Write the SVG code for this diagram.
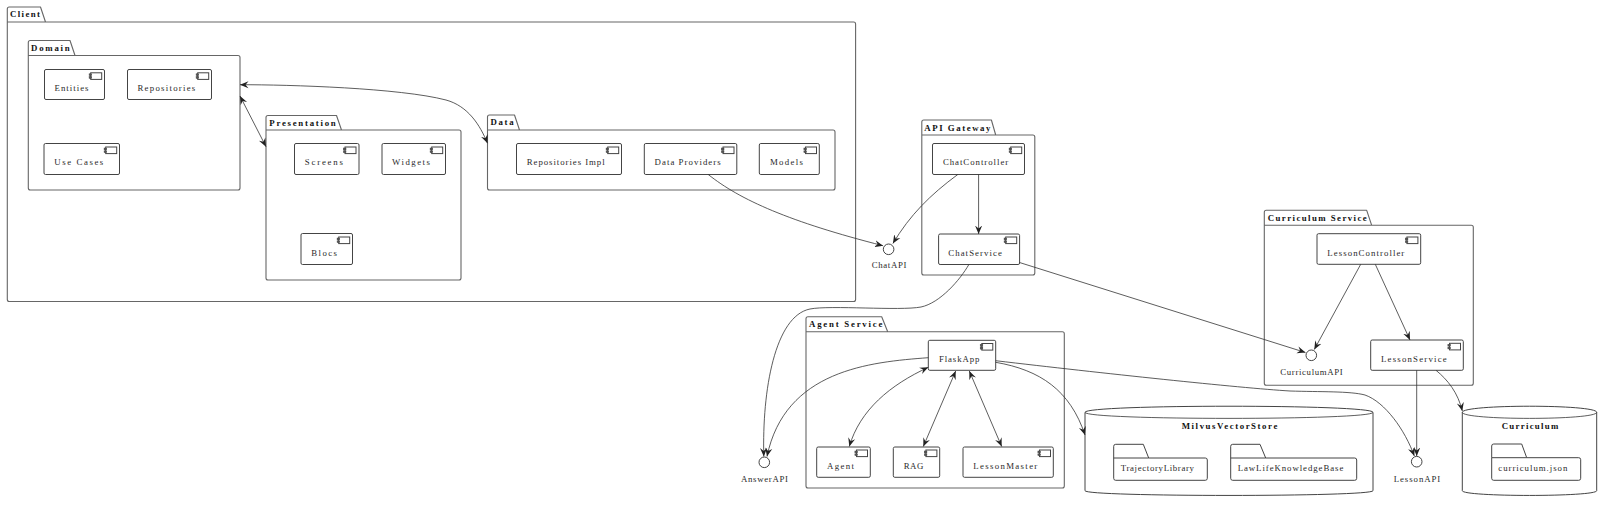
<svg xmlns="http://www.w3.org/2000/svg" xmlns:xlink="http://www.w3.org/1999/xlink" width="1608" height="507" viewBox="0 0 1608 507">
<style>
text{font-family:"Liberation Serif","Times New Roman",serif;font-size:8.8px;fill:#2a2a2a}
.t{font-weight:bold;fill:#111}
.p{fill:none;stroke:#666;stroke-width:1.1;stroke-linejoin:round}
.b{fill:#fff;stroke:#444;stroke-width:1}
.c{fill:none;stroke:#333;stroke-width:.8}
.i{fill:#fff;stroke:#444;stroke-width:1}
.n{fill:#555;stroke:#444;stroke-width:.5}
.a{marker-end:url(#ah)}
.d{marker-end:url(#ah);marker-start:url(#ah)}
</style>
<defs>
<marker id="ah" viewBox="0 0 10 10" refX="10" refY="5" markerWidth="8.5" markerHeight="8.5" markerUnits="userSpaceOnUse" orient="auto-start-reverse"><path d="M0,.8 L10,5 L0,9.2 L3.5,5Z" fill="#222"/></marker>
<g id="ic"><rect class="i" x="-11" y="0" width="11" height="6.6"/><rect class="n" x="-12.6" y="1" width="2.6" height="1.8"/><rect class="n" x="-12.6" y="3.8" width="2.6" height="1.8"/></g>
</defs>
<g id="Client"><path class="p" d="M7.3,22 V9 Q7.3,7 9.3,7 H40.5 L45.5,22 M7.3,22 H853.6 Q855.6,22 855.6,24 V299.5 Q855.6,301.5 853.6,301.5 H9.3 Q7.3,301.5 7.3,299.5 V22"/><text class="t" x="10" y="17" textLength="30">Client</text></g>
<g id="Domain"><path class="p" d="M28.3,55.5 V42.5 Q28.3,40.5 30.3,40.5 H70 L75,55.5 M28.3,55.5 H238 Q240,55.5 240,57.5 V188 Q240,190 238,190 H30.3 Q28.3,190 28.3,188 V55.5"/><text class="t" x="31" y="51" textLength="38.7">Domain</text></g>
<g id="Entities"><rect class="b" x="44.5" y="69.5" width="60" height="30" rx="1.5"/><use href="#ic" x="101.7" y="72.8"/><text x="54.5" y="91" textLength="34">Entities</text></g>
<g id="Repositories"><rect class="b" x="127.5" y="69.5" width="84" height="30" rx="1.5"/><use href="#ic" x="208.7" y="72.8"/><text x="137.5" y="91" textLength="57.8">Repositories</text></g>
<g id="UseCases"><rect class="b" x="44" y="143.5" width="75.5" height="31" rx="1.5"/><use href="#ic" x="116.7" y="147"/><text x="54.3" y="165" textLength="49">Use Cases</text></g>
<g id="Presentation"><path class="p" d="M266,130 V117.5 Q266,115.5 268,115.5 H336.5 L341.5,130 M266,130 H459 Q461,130 461,132 V278 Q461,280 459,280 H268 Q266,280 266,278 V130"/><text class="t" x="269.3" y="125.5" textLength="66.4">Presentation</text></g>
<g id="Screens"><rect class="b" x="294.5" y="143.5" width="64.5" height="31" rx="1.5"/><use href="#ic" x="356" y="147"/><text x="304.7" y="165" textLength="38.3">Screens</text></g>
<g id="Widgets"><rect class="b" x="382" y="143.5" width="63.5" height="31" rx="1.5"/><use href="#ic" x="442.7" y="147"/><text x="392" y="165" textLength="38">Widgets</text></g>
<g id="Blocs"><rect class="b" x="301" y="233.5" width="51.5" height="31" rx="1.5"/><use href="#ic" x="349.7" y="237"/><text x="311.3" y="256" textLength="25.7">Blocs</text></g>
<g id="Data"><path class="p" d="M487.5,130 V117 Q487.5,115 489.5,115 H514.5 L519.5,130 M487.5,130 H833 Q835,130 835,132 V188 Q835,190 833,190 H489.5 Q487.5,190 487.5,188 V130"/><text class="t" x="490.4" y="125" textLength="23.2">Data</text></g>
<g id="RepositoriesImpl"><rect class="b" x="516.5" y="143.5" width="105" height="31" rx="1.5"/><use href="#ic" x="618.7" y="147"/><text x="526.8" y="165" textLength="77.8">Repositories Impl</text></g>
<g id="DataProviders"><rect class="b" x="644.3" y="143.5" width="92.5" height="31" rx="1.5"/><use href="#ic" x="734" y="147"/><text x="654.6" y="165" textLength="66.1">Data Providers</text></g>
<g id="Models"><rect class="b" x="759.3" y="143.5" width="60" height="31" rx="1.5"/><use href="#ic" x="816.5" y="147"/><text x="770" y="165" textLength="32.9">Models</text></g>
<g id="APIGateway"><path class="p" d="M921.8,135 V122 Q921.8,120 923.8,120 H991.4 L995.7,135 M921.8,135 H1032.8 Q1034.8,135 1034.8,137 V273 Q1034.8,275 1032.8,275 H923.8 Q921.8,275 921.8,273 V135"/><text class="t" x="924.3" y="131" textLength="66.1">API Gateway</text></g>
<g id="ChatController"><rect class="b" x="932.5" y="143.5" width="92" height="31" rx="1.5"/><use href="#ic" x="1021.7" y="147"/><text x="942.9" y="165" textLength="65.3">ChatController</text></g>
<g id="ChatService"><rect class="b" x="938.6" y="234" width="81" height="30.5" rx="1.5"/><use href="#ic" x="1016.7" y="237"/><text x="948.2" y="256" textLength="53.8">ChatService</text></g>
<g id="ChatAPI"><circle class="b" cx="888.6" cy="249.3" r="5.3"/><text x="871.8" y="268" textLength="34.6">ChatAPI</text></g>
<g id="AgentService"><path class="p" d="M806,331.7 V318.7 Q806,316.7 808,316.7 H881.7 L887.7,331.7 M806,331.7 H1062.3 Q1064.3,331.7 1064.3,333.7 V486 Q1064.3,488 1062.3,488 H808 Q806,488 806,486 V331.7"/><text class="t" x="809" y="327" textLength="73.3">Agent Service</text></g>
<g id="FlaskApp"><rect class="b" x="928.3" y="340.3" width="67.4" height="30" rx="1.5"/><use href="#ic" x="992.8" y="343.5"/><text x="939" y="362" textLength="40.3">FlaskApp</text></g>
<g id="Agent"><rect class="b" x="816.7" y="447" width="53.6" height="30.3" rx="1.5"/><use href="#ic" x="867.5" y="450"/><text x="827" y="469" textLength="27">Agent</text></g>
<g id="RAG"><rect class="b" x="893.3" y="447" width="46.4" height="30.3" rx="1.5"/><use href="#ic" x="936.9" y="450"/><text x="903.7" y="469" textLength="19.6">RAG</text></g>
<g id="LessonMaster"><rect class="b" x="963" y="447" width="90.3" height="30.3" rx="1.5"/><use href="#ic" x="1050.5" y="450"/><text x="973.3" y="469" textLength="64">LessonMaster</text></g>
<g id="AnswerAPI"><circle class="b" cx="764.3" cy="462.3" r="5.3"/><text x="741" y="482" textLength="47">AnswerAPI</text></g>
<g id="MilvusVectorStore"><path class="b" d="M1085,412.3 C1085,404.2 1373,404.2 1373,412.3 V490.7 C1373,497 1085,497 1085,490.7 Z"/><path class="c" d="M1085,412.3 C1085,420.4 1373,420.4 1373,412.3"/><text class="t" x="1181.7" y="429" textLength="95.6">MilvusVectorStore</text></g>
<g id="TrajectoryLibrary"><path class="b" d="M1113.7,458 V446.3 Q1113.7,444.3 1115.7,444.3 H1143.3 L1148.7,458 H1205.3 Q1207.3,458 1207.3,460 V478.3 Q1207.3,480.3 1205.3,480.3 H1115.7 Q1113.7,480.3 1113.7,478.3 V458 H1148.7"/><text x="1120.7" y="471" textLength="73.3">TrajectoryLibrary</text></g>
<g id="LawLifeKnowledgeBase"><path class="b" d="M1230.7,458 V446.3 Q1230.7,444.3 1232.7,444.3 H1260 L1265.7,458 H1354.7 Q1356.7,458 1356.7,460 V478.3 Q1356.7,480.3 1354.7,480.3 H1232.7 Q1230.7,480.3 1230.7,478.3 V458 H1265.7"/><text x="1237.7" y="471" textLength="105.6">LawLifeKnowledgeBase</text></g>
<g id="CurriculumService"><path class="p" d="M1264.3,225.3 V212.3 Q1264.3,210.3 1266.3,210.3 H1366.7 L1371.7,225.3 M1264.3,225.3 H1471.3 Q1473.3,225.3 1473.3,227.3 V383.3 Q1473.3,385.3 1471.3,385.3 H1266.3 Q1264.3,385.3 1264.3,383.3 V225.3"/><text class="t" x="1267.7" y="221" textLength="99">Curriculum Service</text></g>
<g id="LessonController"><rect class="b" x="1317" y="233.7" width="103.7" height="30.6" rx="1.5"/><use href="#ic" x="1417.9" y="237"/><text x="1327.3" y="256" textLength="77">LessonController</text></g>
<g id="LessonService"><rect class="b" x="1370.7" y="340" width="92.6" height="30.3" rx="1.5"/><use href="#ic" x="1460.5" y="343.3"/><text x="1381" y="362" textLength="65.7">LessonService</text></g>
<g id="CurriculumAPI"><circle class="b" cx="1311.3" cy="355.3" r="5.3"/><text x="1280.3" y="374.5" textLength="62.4">CurriculumAPI</text></g>
<g id="LessonAPI"><circle class="b" cx="1416.7" cy="461.7" r="5.3"/><text x="1393.7" y="482" textLength="46.6">LessonAPI</text></g>
<g id="Curriculum"><path class="b" d="M1462.3,412.3 C1462.3,404.2 1596.7,404.2 1596.7,412.3 V490.7 C1596.7,497 1462.3,497 1462.3,490.7 Z"/><path class="c" d="M1462.3,412.3 C1462.3,420.4 1596.7,420.4 1596.7,412.3"/><text class="t" x="1501.7" y="428.7" textLength="56.6">Curriculum</text></g>
<g id="curriculum.json"><path class="b" d="M1491.7,457.7 V446 Q1491.7,444 1493.7,444 H1521.7 L1526.7,457.7 H1578.7 Q1580.7,457.7 1580.7,459.7 V478.3 Q1580.7,480.3 1578.7,480.3 H1493.7 Q1491.7,480.3 1491.7,478.3 V457.7 H1526.7"/><text x="1498.3" y="471" textLength="69">curriculum.json</text></g>
<g id="connectors">
<path class="c d" d="M240,84.7 C290,84.7 400,88 446,100 C468,106 480,125 487.5,143.3"/>
<path class="c d" d="M240,96 L266,146.7"/>
<path class="c a" d="M708,174.3 C740,200 790,222 883,245.7"/>
<path class="c a" d="M958,174.3 C930,195 910,215 892.9,243.5"/>
<path class="c a" d="M978.6,174.3 V234"/>
<path class="c a" d="M969,264.3 C960,280 940,303 921,307 C900,311 830,305 810,309 C775,316 762,390 763.8,456.5"/>
<path class="c a" d="M928.3,357.7 C870,362 785,370 767,456.5"/>
<path class="c a" d="M1019.5,262.5 L1305.5,352.5"/>
<path class="c d" d="M928.3,367.3 C890,385 860,410 849.3,446.5"/>
<path class="c d" d="M955.7,371 L923.3,446.5"/>
<path class="c d" d="M969.3,371 L1001.7,446.5"/>
<path class="c a" d="M995.7,360.7 C1100,373 1240,388 1290,391 C1320,392 1350,391 1365,395 C1385,402 1405,430 1414.3,456"/>
<path class="c a" d="M995.7,362.3 C1040,370 1070,390 1085,435"/>
<path class="c a" d="M1360.7,264.3 L1314.3,349.5"/>
<path class="c a" d="M1375.3,264.3 L1410,340"/>
<path class="c a" d="M1416.7,370.3 V456"/>
<path class="c a" d="M1436,370.3 C1448,380 1458,393 1462.3,411"/>
</g>
</svg>
